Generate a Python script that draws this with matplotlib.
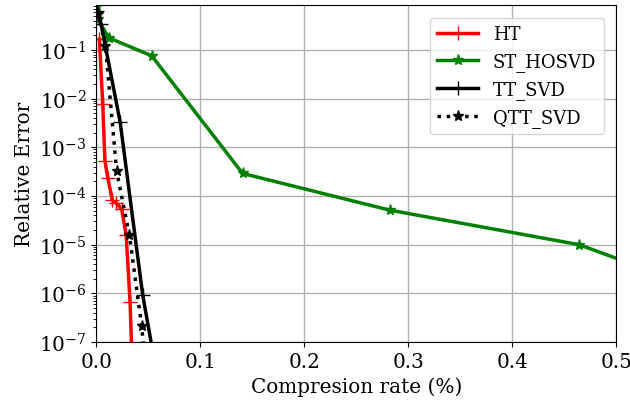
import matplotlib
matplotlib.use("Agg")
import matplotlib.pyplot as plt

plt.rcParams["font.family"] = ["DejaVu Serif"]
plt.rcParams["mathtext.fontset"] = "dejavuserif"

# Compression rate (%) and relative error per method
ht_rate = [0.0029, 0.0061, 0.0082, 0.0110, 0.0154, 0.0188, 0.0243, 0.0286, 0.0324, 0.0345]
ht_err = [1.66e-1, 7.7e-3, 5.3e-4, 2.35e-4, 8.1e-5, 7.2e-5, 5.4e-5, 1.6e-5, 6.6e-7, 3.0e-8]

st_rate = [0.0007, 0.0013, 0.0118, 0.0532, 0.1407, 0.2825, 0.4644, 0.6000]
st_err = [7.8e-1, 4.3e-1, 1.77e-1, 7.55e-2, 2.9e-4, 5.1e-5, 1.0e-5, 8.7e-7]

tt_rate = [0.0005, 0.0045, 0.0229, 0.0445, 0.0600]
tt_err = [6.2e-1, 3.4e-1, 3.25e-3, 9.4e-7, 1.3e-8]

qtt_rate = [0.0019, 0.0087, 0.0195, 0.0317, 0.0436, 0.0480]
qtt_err = [5.56e-1, 1.21e-1, 3.2e-4, 1.6e-5, 2.1e-7, 2.0e-8]

fig = plt.figure(figsize=(6.3, 4.06), dpi=100)
ax = fig.add_axes([0.153, 0.155, 0.825, 0.830])

ax.plot(ht_rate, ht_err, color="red", marker="+", lw=2.5, ms=10, label="HT")
ax.plot(st_rate, st_err, color="green", marker="*", lw=2.5, ms=8, label="ST_HOSVD")
ax.plot(tt_rate, tt_err, color="black", marker="+", lw=2.5, ms=10, label="TT_SVD")
ax.plot(qtt_rate, qtt_err, color="black", marker="*", ls=":", lw=2.5, ms=8, label="QTT_SVD")

ax.set_yscale("log")
ax.set_xlim(0, 0.5)
ax.set_ylim(1e-7, 0.83)
ax.grid(True, which="major", color="#b0b0b0", lw=1.0)
ax.tick_params(labelsize=14.4)

ax.set_xlabel("Compresion rate (%)", fontsize=14.4)
ax.set_ylabel("Relative Error", fontsize=14.4)
ax.legend(loc="upper right", fontsize=13, handlelength=2.3,
          borderaxespad=0.7)

fig.savefig("out.png", dpi=100)
